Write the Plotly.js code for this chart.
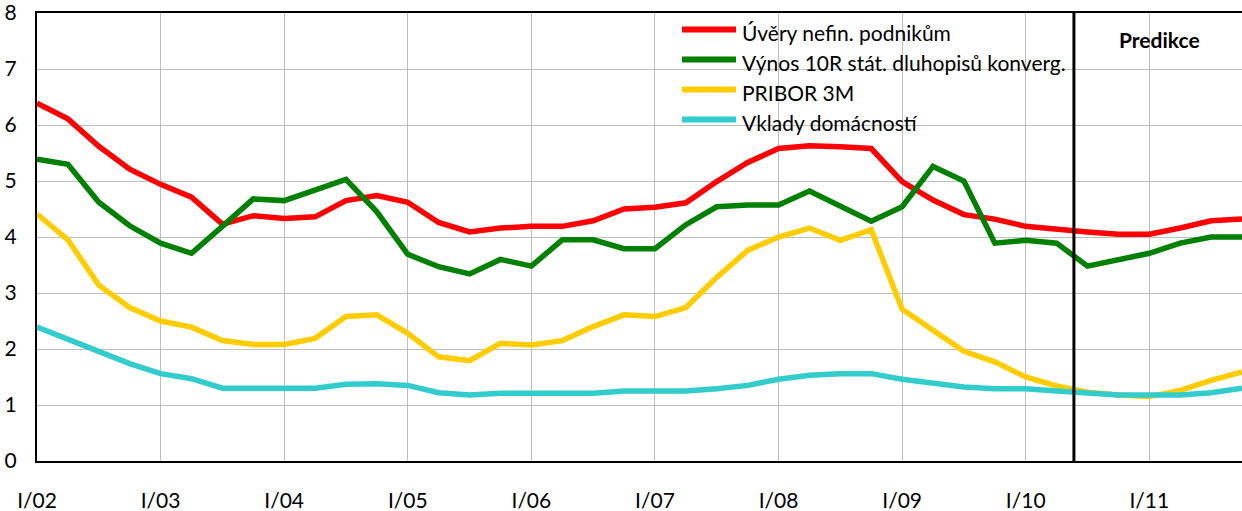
<!DOCTYPE html>
<html>
<head>
<meta charset="utf-8">
<script src="https://cdn.plot.ly/plotly-3.0.1.min.js"></script>
<style>html,body{margin:0;padding:0;background:#fff;}#chart{width:1242px;height:511px;}</style>
</head>
<body>
<div id="chart"></div>
<script>
// Quarterly categories I/02 .. IV/11
const years = ["02","03","04","05","06","07","08","09","10","11"];
const romans = ["I","II","III","IV"];
const quarters = [];
years.forEach(y => romans.forEach(r => quarters.push(r + "/" + y)));

const seriesNames = ["Úvěry nefin. podnikům", "Výnos 10R stát. dluhopisů konverg.", "PRIBOR 3M", "Vklady domácností"];
const seriesColors = ["#FF0000", "#008000", "#FFCC00", "#33CCCC"];

const uvery = [6.39,6.11,5.62,5.21,4.94,4.71,4.23,4.38,4.33,4.36,4.65,4.74,
               4.62,4.26,4.09,4.16,4.19,4.19,4.29,4.50,4.53,4.61,4.99,5.33,
               5.58,5.63,5.61,5.58,4.99,4.66,4.40,4.32,4.19,4.13,4.09,4.05,
               4.05,4.16,4.29,4.32];
const vynos = [5.39,5.30,4.62,4.20,3.89,3.71,4.19,4.68,4.65,4.84,5.03,4.45,
               3.69,3.47,3.34,3.60,3.48,3.95,3.95,3.79,3.79,4.22,4.54,4.57,
               4.57,4.82,4.54,4.28,4.54,5.26,5.00,3.89,3.94,3.89,3.48,3.60,
               3.71,3.89,4.00,4.00];
const pribor = [4.41,3.95,3.14,2.74,2.50,2.39,2.15,2.08,2.08,2.19,2.58,2.61,
                2.28,1.86,1.79,2.10,2.07,2.15,2.40,2.61,2.58,2.74,3.28,3.76,
                4.00,4.16,3.94,4.13,2.71,2.34,1.96,1.77,1.50,1.34,1.23,1.18,
                1.15,1.26,1.44,1.59];
const vklady = [2.39,2.17,1.96,1.74,1.56,1.47,1.30,1.30,1.30,1.30,1.37,1.38,
                1.35,1.22,1.18,1.21,1.21,1.21,1.21,1.25,1.25,1.25,1.29,1.35,
                1.46,1.53,1.56,1.56,1.46,1.40,1.32,1.29,1.29,1.25,1.21,1.18,
                1.18,1.18,1.22,1.30];
const seriesValues = [uvery, vynos, pribor, vklady];

const tickLabels = years.map(y => "I/" + y);
const tickPositions = years.map((y, i) => quarters.indexOf("I/" + y));
const predictionStart = 33.56; // position of forecast divider (in quarter index units)
const predictionLabel = "Predikce";

const xIdx = quarters.map((q, i) => i);
const FONT = "Lato, 'Liberation Sans', sans-serif";
const FS = 21;

const traces = seriesValues.map((vals, k) => ({
  type: "scatter", mode: "lines",
  x: xIdx, y: vals, name: seriesNames[k],
  text: quarters, hoverinfo: "text+y",
  line: {color: seriesColors[k], width: 5.5},
  showlegend: false
}));

// layout geometry
const L = 37, R = 0, T = 13, B = 50, W = 1242, H = 511;
const pw = W - L - R, ph = H - T - B;
const px = x => (x - L) / pw;
const py = y => (H - B - y) / ph;

const shapes = [
  {type: "rect", xref: "paper", yref: "paper", x0: px(676), x1: px(1069), y0: py(137), y1: 1,
   fillcolor: "#ffffff", line: {width: 0}, layer: "between"},
  {type: "line", xref: "x", yref: "paper", x0: predictionStart, x1: predictionStart, y0: 0, y1: 1,
   line: {color: "#000000", width: 3}, layer: "above"}
];
const annotations = [
  {xref: "paper", yref: "paper", x: px(1159), y: py(39), text: "<b>" + predictionLabel + "</b>",
   showarrow: false, xanchor: "center", yanchor: "middle", font: {family: FONT, size: FS, color: "#000"}}
];
seriesNames.forEach((n, k) => {
  const yc = 29.5 + 30 * k;
  shapes.push({type: "line", xref: "paper", yref: "paper", x0: px(682), x1: px(736), y0: py(yc), y1: py(yc),
    line: {color: seriesColors[k], width: 6}, layer: "above"});
  annotations.push({xref: "paper", yref: "paper", x: px(740), y: py(yc + 3), text: n, showarrow: false,
    xanchor: "left", yanchor: "middle", font: {family: FONT, size: FS, color: "#000"}});
});

const layout = {
  width: W, height: H,
  margin: {l: L, r: R, t: T, b: B, pad: 0},
  paper_bgcolor: "#fff", plot_bgcolor: "#fff",
  font: {family: FONT, size: FS, color: "#000"},
  showlegend: false,
  xaxis: {
    range: [0, quarters.length - 1], tickmode: "array", tickvals: tickPositions, ticktext: tickLabels,
    showgrid: true, gridcolor: "#BFBFBF", gridwidth: 1, zeroline: false,
    showline: true, linecolor: "#000", linewidth: 2, mirror: true,
    ticks: "", ticklabelstandoff: 20, ticklabeloverflow: "allow", tickfont: {family: FONT, size: FS}
  },
  yaxis: {
    range: [0, 8], dtick: 1, tick0: 0,
    showgrid: true, gridcolor: "#BFBFBF", gridwidth: 1, zeroline: false,
    showline: true, linecolor: "#000", linewidth: 2,
    ticks: "", ticklabelstandoff: 14, ticklabeloverflow: "allow", tickfont: {family: FONT, size: FS}
  },
  shapes: shapes,
  annotations: annotations
};

Plotly.newPlot("chart", traces, layout, {displayModeBar: false, staticPlot: true});
</script>
</body>
</html>
